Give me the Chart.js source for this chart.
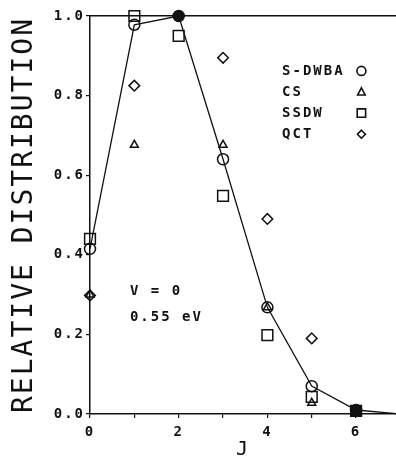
<!DOCTYPE html>
<html><head><meta charset="utf-8">
<script src="https://cdn.jsdelivr.net/npm/chart.js@4/dist/chart.umd.min.js"></script>
<style>html,body{margin:0;padding:0;background:#fff;overflow:hidden}canvas{display:block}</style>
</head><body>
<canvas id="c" width="396" height="460"></canvas>
<script>
// ---- data ----
const J      = [0, 1, 2, 3, 4, 5, 6, 7];
const sdwba  = [0.415, 0.978, 1.0, 0.640, 0.268, 0.070, 0.010, 0.0];
const cs     = [0.300, 0.676, 1.0, 0.676, 0.268, 0.028, 0.010];
const ssdw   = [0.440, 1.000, 0.950, 0.548, 0.198, 0.043, 0.008];
const qct    = [0.298, 0.825, 1.0, 0.895, 0.490, 0.190, 0.010];
const xTickLabels = [0, 2, 4, 6];
const legendNames = ['S-DWBA', 'CS', 'SSDW', 'QCT'];
const noteLines = ['V = 0', '0.55 eV'];
const yTitle = 'RELATIVE DISTRIBUTION';
const xTitle = 'J';

const INK = '#111';
const MONO = '"DejaVu Sans Mono", "Liberation Mono", monospace';
const series = [sdwba, cs, ssdw, qct];
const styles = ['circle', 'triangle', 'rect', 'rectRot'];

// a point looks filled where three or more series pile up on it
function crowded(ds, i) {
  const v = series[ds][i];
  if (v === undefined) return false;
  return series.filter(s => s[i] !== undefined && Math.abs(s[i] - v) < 0.02).length >= 3;
}
const pts = arr => arr.map((v, i) => ({x: J[i], y: v}));
const fillFn = ctx => (ctx.dataIndex !== undefined && crowded(ctx.datasetIndex, ctx.dataIndex)) ? INK : 'rgba(0,0,0,0)';

const spacing = {
  id: 'spacing',
  beforeUpdate(c) { c.ctx.letterSpacing = '2px'; },
  beforeDraw(c) { c.ctx.letterSpacing = '2px'; }
};

function drawSymbol(ctx, style, x, y, r) {
  ctx.beginPath();
  if (style === 'circle') ctx.arc(x, y, r, 0, Math.PI * 2);
  else if (style === 'triangle') {
    ctx.moveTo(x, y - r); ctx.lineTo(x + r * 0.9, y + r * 0.7); ctx.lineTo(x - r * 0.9, y + r * 0.7); ctx.closePath();
  } else if (style === 'rect') ctx.rect(x - r, y - r, 2 * r, 2 * r);
  else { ctx.moveTo(x, y - r); ctx.lineTo(x + r, y); ctx.lineTo(x, y + r); ctx.lineTo(x - r, y); ctx.closePath(); }
  ctx.stroke();
}

const annotations = {
  id: 'annotations',
  afterDraw(c) {
    const ctx = c.ctx, xs = c.scales.x, ys = c.scales.y;
    ctx.save();
    ctx.letterSpacing = '2px';
    ctx.font = 'bold 14px ' + MONO;
    ctx.fillStyle = INK; ctx.strokeStyle = INK; ctx.lineWidth = 1.6;
    ctx.textBaseline = 'middle'; ctx.textAlign = 'left';
    const lx = xs.getPixelForValue(4.33), sx = xs.getPixelForValue(6.12);
    const rows = [0.862, 0.809, 0.756, 0.703];
    const sizes = [4.5, 4.2, 4.2, 4];
    legendNames.forEach((n, i) => {
      const y = ys.getPixelForValue(rows[i]);
      ctx.fillText(n, lx, y);
      drawSymbol(ctx, styles[i], sx, y, sizes[i]);
    });
    const nx = xs.getPixelForValue(0.9);
    ctx.fillText(noteLines[0], nx, ys.getPixelForValue(0.307));
    ctx.fillText(noteLines[1], nx, ys.getPixelForValue(0.244));
    ctx.restore();
  }
};

const common = {showLine: false, borderColor: INK, pointBorderColor: INK, pointBorderWidth: 1.5,
  pointBackgroundColor: fillFn, clip: false};
const noPad = s => { s.paddingLeft = 0; s.paddingRight = 0; s.paddingTop = 0; s.paddingBottom = 0; };

new Chart(document.getElementById('c'), {
  type: 'scatter',
  data: {
    datasets: [
      Object.assign({}, common, {label: legendNames[0], data: pts(sdwba), showLine: true, borderWidth: 1.3,
        tension: 0, pointStyle: 'circle',
        pointRadius: ctx => (ctx.raw && ctx.raw.x > 6.5) ? 0 : 5.5}),
      Object.assign({}, common, {label: legendNames[1], data: pts(cs), pointStyle: 'triangle', pointRadius: 4.6}),
      Object.assign({}, common, {label: legendNames[2], data: pts(ssdw), pointStyle: 'rect', pointRadius: 7.6}),
      Object.assign({}, common, {label: legendNames[3], data: pts(qct), pointStyle: 'rectRot', pointRadius: 5.3})
    ]
  },
  options: {
    responsive: false, animation: false, devicePixelRatio: 1,
    layout: {padding: 0, autoPadding: false},
    plugins: {legend: {display: false}, tooltip: {enabled: false}},
    scales: {
      x: {
        type: 'linear', position: 'bottom', min: 0, max: 6.9,
        afterFit: s => { s.height = 46; noPad(s); },
        border: {display: true, color: INK, width: 1.5},
        grid: {drawOnChartArea: false, color: INK, tickLength: 4, lineWidth: 1.2},
        ticks: {stepSize: 1, autoSkip: false, maxRotation: 0, includeBounds: false, padding: 6, color: INK,
          font: {family: MONO, size: 14, weight: 'bold'},
          callback: v => xTickLabels.includes(v) ? String(v) : ''},
        title: {display: true, text: xTitle, color: INK, padding: {top: 0, bottom: 0},
          font: {family: MONO, size: 20, weight: 'normal', lineHeight: 1}}
      },
      x2: {
        type: 'linear', position: 'top', min: 0, max: 6.9,
        afterFit: s => { s.height = 16; noPad(s); },
        border: {display: true, color: INK, width: 1.5},
        grid: {display: false},
        ticks: {display: false}
      },
      y: {
        type: 'linear', position: 'left', min: 0, max: 1,
        afterFit: s => { s.width = 90; noPad(s); },
        border: {display: true, color: INK, width: 1.5},
        grid: {drawOnChartArea: false, color: INK, tickLength: 4, lineWidth: 1.2},
        ticks: {stepSize: 0.2, padding: 1, color: INK, font: {family: MONO, size: 14, weight: 'bold'},
          callback: v => Number(v).toFixed(1)},
        title: {display: true, text: yTitle, color: INK, padding: {top: 11, bottom: 0},
          font: {family: MONO, size: 28, weight: 'normal', lineHeight: 1}}
      }
    }
  },
  plugins: [spacing, annotations]
});
</script>
</body></html>
